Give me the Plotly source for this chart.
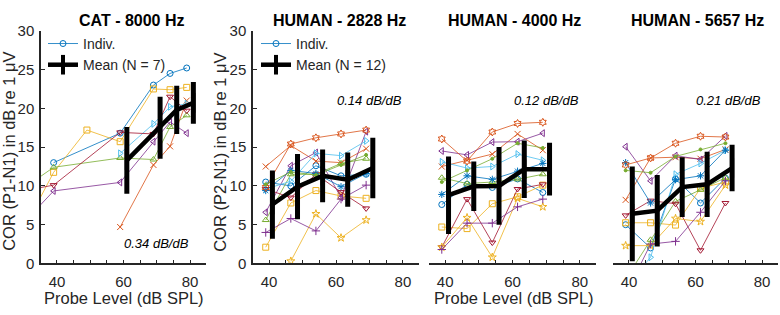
import plotly.graph_objects as go

# ---------------- data ----------------
colors = ["#0072BD", "#D95319", "#EDB120", "#7E2F8E", "#77AC30", "#4DBEEE", "#A2142F"]
symbols = ["circle-open", "x-thin-open", "square-open", "triangle-left-open", "triangle-up-open",
           "triangle-right-open", "triangle-down-open", "asterisk-open", "hexagram-open",
           "star-open", "cross-thin-open", "circle"]

# CAT - 8000 Hz (individual levels are plotted 1 dB below nominal, means 1 dB above)
cat_levels = [29, 39, 49, 59, 69, 74, 79]
cat_indiv = [
    [None, 13.0, None, 16.8, 23.0, 24.5, 25.2],
    [None, None, None, 4.7, 12.7, 15.1, 21.0],
    [3.6, 11.75, 17.2, 15.7, 22.5, 22.4, 22.7],
    [4.8, 9.35, None, 10.45, 15.7, 18.25, 16.8],
    [9.4, 12.4, None, 13.6, 13.4, 17.6, 19.1],
    [None, None, None, 14.2, 18.0, 20.2, 20.6],
    [9.3, 10.1, None, 16.9, 16.7, 21.5, 19.7],
]
cat_mean_levels = [61, 71, 76, 81]
cat_mean = [13.3, 17.5, 19.8, 20.7]
cat_err = [4.3, 4.0, 3.1, 2.7]

# HUMAN panels
hum_levels = [39, 46.5, 54, 61.5, 69]
hum_mean_levels = [41, 48.5, 56, 63.5, 71]

h2828_indiv = [
    [10.5, 10.0, 12.6, 11.3, 11.5],
    [12.5, 15.2, 13.2, 13.0, 14.8],
    [2.1, 7.8, 9.4, 8.7, 8.4],
    [6.6, 12.6, 14.3, 8.5, 17.0],
    [5.6, 11.5, 11.5, 12.9, 13.5],
    [9.6, 10.6, 14.2, 13.9, 15.8],
    [9.6, 8.5, 11.5, 9.2, 7.1],
    [9.4, 12.0, 11.6, 9.9, 11.6],
    [9.8, 15.4, 16.2, 16.7, 17.2],
    [None, 0.3, 6.4, 3.3, 5.6],
    [4.0, 5.8, 4.2, 8.3, 10.1],
    [10.2, 11.8, 11.4, 12.7, 14.0],
]
h2828_mean = [7.6, 9.9, 11.3, 10.8, 12.3]
h2828_err = [4.4, 4.2, 3.4, 3.5, 3.9]

h4000_indiv = [
    [7.6, 10.2, 9.8, 10.9, 9.15],
    [12.5, 13.3, 14.1, 16.7, 14.6],
    [4.7, 4.5, 7.7, 8.6, 10.1],
    [14.5, 14.0, 15.65, 15.7, 16.8],
    [11.05, 10.3, 10.5, 10.85, 11.5],
    [13.1, 12.3, 12.5, 14.1, 13.3],
    [2.1, 8.3, 2.7, 9.6, 10.2],
    [8.9, 11.3, 10.85, 11.9, 12.9],
    [16.05, 13.2, 16.95, 18.05, 18.2],
    [2.1, 5.9, 0.8, 8.4, 7.3],
    [1.8, 5.2, 5.2, 7.3, 8.3],
    [10.5, 12.0, 13.5, 15.5, 14.9],
]
h4000_mean = [8.8, 9.95, 10.0, 12.15, 12.15]
h4000_err = [5.0, 3.2, 5.0, 3.7, 3.4]

h5657_indiv = [
    [5.0, 2.0, 10.9, 7.8, 11.0],
    [8.2, 13.6, 13.7, 13.5, 14.7],
    [5.25, 5.25, 4.95, 9.7, 10.5],
    [15.05, 10.65, 13.9, 13.4, 16.45],
    [-2.0, 3.05, 8.0, 9.5, 11.05],
    [-3.0, 0.8, 11.5, 12.9, 14.6],
    [6.2, 8.1, 7.7, 1.7, 7.8],
    [13.0, 7.8, 10.8, 11.3, 14.6],
    [12.7, 13.6, 15.5, 16.4, 16.3],
    [2.3, 2.3, 5.8, 5.4, 10.1],
    [-4.0, 2.5, 2.85, 6.6, 10.65],
    [12.0, 11.7, 13.8, 14.7, 15.5],
]
h5657_mean = [6.4, 6.8, 9.85, 10.2, 12.3]
h5657_err = [6.1, 4.6, 3.85, 4.2, 3.0]

titles = ["CAT - 8000 Hz", "HUMAN - 2828 Hz", "HUMAN - 4000 Hz", "HUMAN - 5657 Hz"]
slopes = ["0.34 dB/dB", "0.14 dB/dB", "0.12 dB/dB", "0.21 dB/dB"]
ytitles = ["COR (P1-N1) in dB re 1 μV", "COR (P2-N1) in dB re 1 μV"]
xtitle = "Probe Level (dB SPL)"
mean_names = ["Mean (N = 7)", "Mean (N = 12)"]

# ---------------- figure ----------------
W, H = 780, 315
FONT = "Liberation Sans, Arial, Helvetica, sans-serif"
AX = "#262626"

fig = go.Figure()

panels = [
    (cat_levels, cat_indiv, cat_mean_levels, cat_mean, cat_err),
    (hum_levels, h2828_indiv, hum_mean_levels, h2828_mean, h2828_err),
    (hum_levels, h4000_indiv, hum_mean_levels, h4000_mean, h4000_err),
    (hum_levels, h5657_indiv, hum_mean_levels, h5657_mean, h5657_err),
]

for p, (lv, indiv, mlv, mval, merr) in enumerate(panels):
    xa = "x" if p == 0 else f"x{p+1}"
    ya = "y" if p == 0 else f"y{p+1}"
    leg = "legend" if p == 0 else "legend2"
    for i, vals in enumerate(indiv):
        c = colors[i % 7]
        sym = symbols[i]
        fig.add_trace(go.Scatter(
            x=lv, y=vals, xaxis=xa, yaxis=ya, mode="lines+markers",
            connectgaps=True,
            line=dict(color=c, width=0.8),
            marker=dict(symbol=sym, size=3 if sym == "circle" else 6, color=c,
                        line=dict(color=c, width=1)),
            name="Indiv.", legend=leg,
            showlegend=(i == 0 and p < 2), cliponaxis=True,
        ))
    fig.add_trace(go.Scatter(
        x=mlv, y=mval, xaxis=xa, yaxis=ya, mode="lines+markers",
        line=dict(color="black", width=4.5),
        marker=dict(symbol="line-ns-open", size=14, color="black",
                    line=dict(color="black", width=4)),
        error_y=dict(type="data", array=merr, visible=True, thickness=5, width=0, color="black"),
        name=mean_names[min(p, 1)], legend=leg, showlegend=(p < 2),
    ))

xdoms = [(41, 206), (253, 419), (429, 596), (613, 778)]
ydom = [(H - 269) / H, (H - 23) / H]

layout = dict(
    width=W, height=H, margin=dict(l=0, r=0, t=0, b=0),
    paper_bgcolor="white", plot_bgcolor="white",
    font=dict(family=FONT, size=14, color=AX),
)

for p in range(4):
    xk = "xaxis" if p == 0 else f"xaxis{p+1}"
    yk = "yaxis" if p == 0 else f"yaxis{p+1}"
    xa = "x" if p == 0 else f"x{p+1}"
    ya = "y" if p == 0 else f"y{p+1}"
    layout[xk] = dict(
        domain=[xdoms[p][0] / W, xdoms[p][1] / W], anchor=ya,
        range=[35.2, 84.8], tick0=40, dtick=20, showgrid=False, zeroline=False,
        showline=True, linecolor=AX, linewidth=1.5,
        ticks="inside", ticklen=4, tickwidth=1.2, tickcolor=AX, ticklabelstandoff=4,
        tickfont=dict(size=15, color=AX, family=FONT),
        minor=dict(tick0=40, dtick=5, ticks="inside", ticklen=4, tickwidth=1.2, tickcolor=AX, showgrid=False),
    )
    if p < 2:
        layout[yk] = dict(
            domain=ydom, anchor=xa, range=[0, 30], dtick=5, showgrid=False, zeroline=False,
            showline=True, linecolor=AX, linewidth=1.5,
            ticks="inside", ticklen=4, tickwidth=1.2, tickcolor=AX, ticklabelstandoff=2,
            tickfont=dict(size=15, color=AX, family=FONT),
        )
    else:
        layout[yk] = dict(domain=ydom, anchor=xa, range=[0, 30], visible=False)

fig.update_layout(**layout)

# legends
fig.update_layout(
    legend=dict(x=43 / W, y=1 - 20 / H, xanchor="left", yanchor="top",
                bgcolor="rgba(0,0,0,0)", font=dict(size=14, color=AX, family=FONT),
                tracegroupgap=0, itemwidth=30),
    legend2=dict(x=256 / W, y=1 - 20 / H, xanchor="left", yanchor="top",
                 bgcolor="rgba(0,0,0,0)", font=dict(size=14, color=AX, family=FONT),
                 tracegroupgap=0, itemwidth=30),
)

title_cx = [131.6, 339, 514.5, 697.5]
ann = []
for p in range(4):
    ann.append(dict(text=f"<b>{titles[p]}</b>", x=title_cx[p] / W, y=1 - 12 / H, xref="paper", yref="paper",
                    xanchor="center", yanchor="middle", showarrow=False,
                    font=dict(size=16, color="black", family=FONT)))
slope_y = [2.6, 21.0, 21.0, 21.0]
for p in range(4):
    xa = "x" if p == 0 else f"x{p+1}"
    ya = "y" if p == 0 else f"y{p+1}"
    ann.append(dict(text=f"<i>{slopes[p]}</i>", x=70, y=slope_y[p], xref=xa, yref=ya,
                    xanchor="center", yanchor="middle", showarrow=False,
                    font=dict(size=13, color="black", family=FONT)))
for cx in (124.5, 513.5):
    ann.append(dict(text=xtitle, x=cx / W, y=1 - 306 / H, xref="paper", yref="paper",
                    xanchor="center", yanchor="middle", showarrow=False,
                    font=dict(size=16.5, color=AX, family=FONT)))
for cx, cy, t in ((9, 151, ytitles[0]), (220, 152, ytitles[1])):
    ann.append(dict(text=t, x=cx / W, y=1 - cy / H, xref="paper", yref="paper",
                    xanchor="center", yanchor="middle", showarrow=False, textangle=-90,
                    font=dict(size=16.5, color=AX, family=FONT)))
fig.update_layout(annotations=ann)

fig.write_html("out.html", config={"displayModeBar": False},
               post_script="document.body.style.margin='0';document.body.style.padding='0';")
